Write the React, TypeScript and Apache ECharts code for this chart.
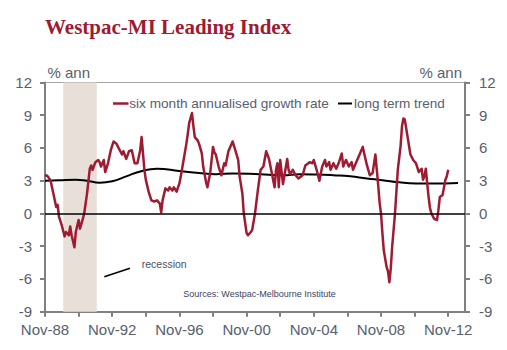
import React, { useEffect, useRef } from "react";
import * as echarts from "echarts";

// months since Nov-88
const redMonths = [
  0, 1, 2, 4, 6, 8, 9, 10, 12, 14, 15, 17, 18, 19, 21, 22, 24, 25, 27, 28, 30, 32, 33, 34, 36, 38, 39, 40, 42, 43, 45, 47, 49, 51, 53, 55, 56, 58, 60, 62, 64, 66, 68, 69, 70, 71, 72, 74, 76, 78, 80, 82, 83, 84, 86, 88, 89, 91, 92, 94, 96, 97, 99, 101, 102, 103, 105, 106, 107, 109, 110, 112, 113, 115, 116, 118, 120, 121, 122, 124, 126, 128, 129, 131, 134, 135, 138, 139, 141, 142, 144, 145, 147, 148, 150, 152, 154, 156, 158, 160, 162, 164, 165, 166, 167, 168, 170, 173, 174, 175, 177, 179, 181, 184, 186, 189, 191, 192, 194, 196, 198, 200, 201, 203, 204, 206, 208, 210, 212, 213, 215, 217, 219, 220, 222, 225, 227, 228, 230, 232, 234, 236, 237, 238, 239, 240, 241, 242, 244, 245, 246, 247, 248, 250, 252, 254, 255, 256, 257, 259, 261, 263, 265, 267, 269, 270, 271, 272, 273, 274, 275, 276, 278, 280, 281, 282, 284, 286, 287, 288,
];
const redValues = [
  3.4, 3.5, 3.4, 3.0, 1.8, 0.6, 0.8, -0.3, -1.1, -2.1, -1.7, -2.0, -1.2, -2.0, -3.1, -1.7, -0.6, -1.4, -0.5, 0.0, 1.8, 4.1, 4.4, 4.0, 4.7, 4.9, 4.7, 4.3, 4.9, 3.8, 4.6, 5.8, 6.6, 6.4, 5.9, 5.4, 5.7, 5.0, 5.7, 5.8, 4.6, 4.6, 5.8, 7.0, 5.5, 4.0, 3.1, 2.0, 1.2, 1.1, 1.2, 0.9, 0.1, 1.2, 2.3, 2.1, 2.4, 2.1, 2.4, 2.0, 2.75, 3.4, 4.9, 6.4, 7.3, 8.3, 9.2, 8.0, 7.0, 6.7, 6.4, 5.5, 4.3, 2.9, 2.4, 3.7, 6.1, 5.6, 5.4, 4.3, 3.5, 4.6, 4.4, 5.7, 6.6, 6.2, 4.9, 3.4, 1.8, 0.0, -1.8, -2.0, -1.7, -1.5, 0.0, 2.1, 4.0, 4.3, 5.7, 5.0, 3.7, 2.4, 4.0, 4.6, 2.4, 4.9, 2.7, 5.0, 4.0, 3.6, 4.0, 3.5, 3.2, 3.5, 4.4, 4.7, 4.6, 4.9, 4.0, 3.0, 4.3, 4.9, 4.3, 4.7, 4.0, 4.6, 4.1, 4.7, 5.5, 4.3, 4.9, 4.3, 4.7, 4.0, 4.6, 5.5, 6.1, 5.5, 4.4, 3.5, 3.7, 5.4, 4.0, 2.6, 1.0, 0.0, -1.8, -3.4, -4.9, -5.3, -6.3, -5.0, -3.0, 0.0, 4.0, 6.2, 8.0, 8.7, 8.6, 7.0, 5.4, 4.9, 4.6, 3.8, 4.1, 3.1, 3.4, 4.1, 2.75, 1.5, 0.5, 0.0, -0.5, -0.6, 0.3, 1.5, 1.7, 3.1, 3.4, 4.0,
];

const trendMonths = [0, 10, 22, 30, 39, 48, 58, 68, 80, 96, 110, 122, 134, 146, 160, 170, 182, 194, 206, 218, 230, 241, 253, 265, 277, 295];
const trendValues = [3.0, 3.05, 3.1, 3.0, 2.82, 2.95, 3.4, 3.85, 4.1, 3.9, 3.7, 3.6, 3.67, 3.65, 3.55, 3.5, 3.6, 3.57, 3.5, 3.4, 3.2, 3.05, 2.85, 2.75, 2.75, 2.8];

const recessionStart = 13;
const recessionEnd = 37;

const xTickLabels = ["Nov-88", "Nov-92", "Nov-96", "Nov-00", "Nov-04", "Nov-08", "Nov-12"];

const RED = "#9e1b32";
const LABEL = "#56606e";
const AXIS = "#808080";
const SANS = "'Liberation Sans', Arial, sans-serif";

export default function App() {
  const ref = useRef<HTMLDivElement>(null);
  useEffect(() => {
    if (!ref.current) return;
    const chart = echarts.init(ref.current, null, { renderer: "svg" });
    const yAxisBase = {
      type: "value",
      min: -9,
      max: 12,
      interval: 3,
      axisLine: { show: true, lineStyle: { color: AXIS, width: 2 } },
      axisTick: { show: true, inside: false, length: 5, lineStyle: { color: AXIS, width: 2 } },
      splitLine: { show: false },
    };
    chart.setOption({
      animation: false,
      backgroundColor: "#fff",
      grid: { left: 45, right: 42, top: 82.5, bottom: 38.3, show: true, borderColor: "#a6a6a6", borderWidth: 1 },
      xAxis: {
        type: "value",
        min: 0,
        max: 300,
        interval: 24,
        axisLine: { show: true, onZero: false, lineStyle: { color: AXIS, width: 2 } },
        axisTick: { show: true, length: 5, lineStyle: { color: AXIS, width: 2 } },
        splitLine: { show: false },
        axisLabel: {
          color: LABEL,
          fontSize: 15,
          fontFamily: SANS,
          margin: 10,
          showMaxLabel: false,
          formatter: (v: number) => (v % 48 === 0 ? xTickLabels[v / 48] || "" : ""),
        },
      },
      yAxis: [
        { ...yAxisBase, position: "left", axisLabel: { color: LABEL, fontSize: 15, fontFamily: SANS, margin: 13 } },
        { ...yAxisBase, position: "right", axisLabel: { color: LABEL, fontSize: 15, fontFamily: SANS, margin: 14 } },
      ],
      series: [
        {
          type: "line",
          data: [],
          z: 1,
          silent: true,
          markArea: {
            silent: true,
            itemStyle: { color: "#e8e0d8" },
            data: [[{ xAxis: recessionStart }, { xAxis: recessionEnd }]],
          },
          markLine: {
            silent: true,
            symbol: ["none", "none"],
            label: { show: false },
            lineStyle: { color: "#000", width: 1.5, type: "solid" },
            data: [{ yAxis: 0 }],
          },
        },
        {
          name: "long term trend",
          type: "line",
          z: 3,
          smooth: true,
          showSymbol: false,
          symbol: "none",
          lineStyle: { color: "#000", width: 2 },
          data: trendMonths.map((m, i) => [m, trendValues[i]]),
        },
        {
          name: "six month annualised growth rate",
          type: "line",
          z: 4,
          showSymbol: false,
          symbol: "none",
          lineStyle: { color: RED, width: 2.5, join: "round" },
          data: redMonths.map((m, i) => [m, redValues[i]]),
        },
      ],
      graphic: [
        {
          type: "text",
          x: 45,
          y: 27,
          style: {
            text: "Westpac-MI Leading Index",
            fill: RED,
            font: "bold 21px 'Liberation Serif', 'Times New Roman', serif",
            verticalAlign: "middle",
          },
        },
        {
          type: "text",
          x: 47.5,
          y: 72.5,
          style: { text: "% ann", fill: LABEL, font: `15px ${SANS}`, verticalAlign: "middle" },
        },
        {
          type: "text",
          x: 462,
          y: 72.5,
          style: { text: "% ann", fill: LABEL, font: `15px ${SANS}`, verticalAlign: "middle", align: "right" },
        },
        {
          type: "line",
          shape: { x1: 113, y1: 103.5, x2: 128.5, y2: 103.5 },
          style: { stroke: RED, lineWidth: 2.5 },
        },
        {
          type: "text",
          x: 129.3,
          y: 103.5,
          style: { text: "six month annualised growth rate", fill: LABEL, font: `13.6px ${SANS}`, verticalAlign: "middle" },
        },
        {
          type: "line",
          shape: { x1: 338, y1: 103.5, x2: 352, y2: 103.5 },
          style: { stroke: "#000", lineWidth: 2 },
        },
        {
          type: "text",
          x: 354,
          y: 103.5,
          style: { text: "long term trend", fill: LABEL, font: `13.5px ${SANS}`, verticalAlign: "middle" },
        },
        {
          type: "line",
          shape: { x1: 104.3, y1: 276.7, x2: 130, y2: 268.3 },
          style: { stroke: "#000", lineWidth: 1.5 },
        },
        {
          type: "text",
          x: 141.7,
          y: 264,
          style: { text: "recession", fill: "#4a4f66", font: `10.5px ${SANS}`, verticalAlign: "middle" },
        },
        {
          type: "text",
          x: 183.3,
          y: 294,
          style: { text: "Sources: Westpac-Melbourne Institute", fill: "#3e4260", font: `9px ${SANS}`, verticalAlign: "middle" },
        },
      ],
    });
    return () => chart.dispose();
  }, []);
  return <div ref={ref} style={{ width: 507, height: 350, position: "absolute", left: 0, top: 0 }} />;
}
